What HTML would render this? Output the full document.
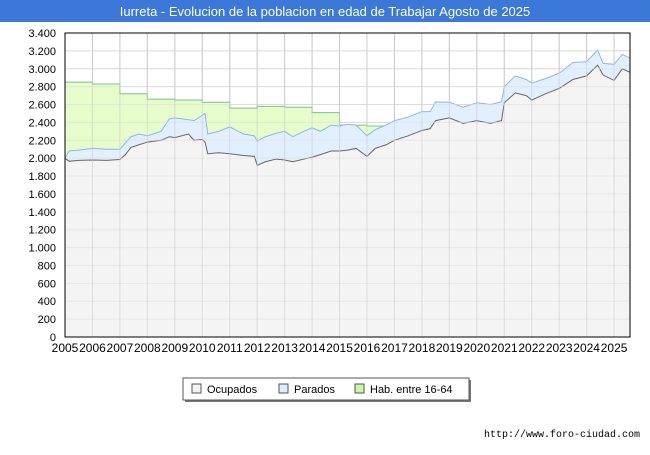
<!DOCTYPE html>
<html><head><meta charset="utf-8"><style>
body{margin:0;width:650px;height:450px;background:#fff;font-family:"Liberation Sans",sans-serif;overflow:hidden}
</style></head><body>
<svg width="650" height="450" font-family="Liberation Sans, sans-serif">
<rect x="0" y="0" width="650" height="22" fill="#3b78d8"/>
<text x="325" y="16" text-anchor="middle" fill="#fff" font-size="13">Iurreta - Evolucion de la poblacion en edad de Trabajar Agosto de 2025</text>
<g id="plot"></g>
<g>
<rect x="185" y="380" width="286" height="22" fill="#777"/>
<rect x="183" y="378" width="286" height="22" fill="#fff" stroke="#555"/>
<rect x="192" y="384" width="9" height="9" fill="#f4f4f4" stroke="#555"/>
<text x="207" y="393" font-size="11">Ocupados</text>
<rect x="279" y="384" width="9" height="9" fill="#dcebff" stroke="#555"/>
<text x="294" y="393" font-size="11">Parados</text>
<rect x="355" y="384" width="9" height="9" fill="#ccf5a8" stroke="#555"/>
<text x="370" y="393" font-size="11">Hab. entre 16-64</text>
</g>
<text x="640" y="437" text-anchor="end" font-size="10" font-family="Liberation Mono, monospace">http://www.foro-ciudad.com</text>
</svg>
<script>
const dates=[2005.0,2005.15,2005.5,2006.0,2006.5,2007.0,2007.2,2007.4,2007.7,2008.0,2008.5,2008.8,2009.0,2009.5,2009.7,2010.0,2010.1,2010.2,2010.6,2011.0,2011.5,2011.9,2012.0,2012.3,2012.7,2013.0,2013.3,2013.7,2014.0,2014.3,2014.7,2015.0,2015.3,2015.6,2016.0,2016.3,2016.7,2017.0,2017.5,2018.0,2018.3,2018.5,2019.0,2019.5,2020.0,2020.5,2020.9,2021.0,2021.4,2021.8,2022.0,2022.5,2023.0,2023.5,2024.0,2024.4,2024.6,2025.0,2025.3,2025.58];
const ocupados=[2000,1965,1975,1980,1975,1985,2040,2120,2150,2180,2200,2240,2230,2270,2200,2210,2180,2050,2060,2050,2030,2020,1920,1960,1990,1980,1960,1990,2010,2040,2080,2080,2090,2110,2020,2110,2150,2200,2250,2310,2330,2420,2450,2390,2420,2390,2420,2620,2730,2700,2650,2720,2780,2880,2920,3040,2930,2870,3000,2960];
const parados=[2000,2080,2090,2110,2100,2100,2170,2240,2270,2250,2300,2440,2450,2430,2420,2480,2500,2270,2300,2350,2270,2250,2190,2240,2280,2300,2240,2300,2340,2300,2370,2360,2380,2370,2250,2320,2370,2420,2460,2520,2520,2630,2625,2570,2620,2600,2630,2800,2920,2880,2840,2890,2950,3070,3080,3210,3060,3050,3160,3120];
const habYears=[2005,2006,2007,2008,2009,2010,2011,2012,2013,2014,2015,2016,2017,2018,2019,2020,2021,2022,2023,2024,2025];
const habValues=[2850,2830,2720,2660,2650,2625,2560,2580,2570,2510,2370,2360,2340,2340,2340,2340,2350,2350,2360,2360,2370];
const yTicks=[0,200,400,600,800,1000,1200,1400,1600,1800,2000,2200,2400,2600,2800,3000,3200,3400];
const xTicks=[2005,2006,2007,2008,2009,2010,2011,2012,2013,2014,2015,2016,2017,2018,2019,2020,2021,2022,2023,2024,2025];
const X0=65,X1=630,Y0=337,Y1=33,endYear=2025.58;
const sx=t=>X0+(t-2005)*(X1-X0)/(endYear-2005);
const sy=v=>Y0-v*(Y0-Y1)/3400;
const NS='http://www.w3.org/2000/svg';
const g=document.getElementById('plot');
function mk(tag,attrs){const e=document.createElementNS(NS,tag);for(const k in attrs)e.setAttribute(k,attrs[k]);g.appendChild(e);return e;}
const bg=mk('rect',{x:X0,y:Y1,width:X1-X0,height:Y0-Y1,fill:'#fff'});


yTicks.forEach(v=>{
 const l=mk('line',{x1:X0,x2:X1,y1:sy(v),y2:sy(v),stroke:'#ddd'});
 
 
 const t=mk('text',{x:X0-9,y:sy(v)+4,'text-anchor':'end','font-size':11});
 t.textContent=v.toLocaleString('de-DE');
 
 
});
xTicks.forEach(yr=>{
 const l=mk('line',{x1:sx(yr),x2:sx(yr),y1:Y1,y2:Y0,stroke:'#ccc'});
 
 
 const t=mk('text',{x:sx(yr),y:Y0+15,'text-anchor':'middle','font-size':12});
 t.textContent=yr;
 
 
});
let hp=[];
habYears.forEach((yr,i)=>{const nx=i+1<habYears.length?habYears[i+1]:endYear;hp.push([sx(yr),sy(habValues[i])],[sx(nx),sy(habValues[i])]);});
const habLine=hp.map(p=>p.join(',')).join(' ');
const ha=mk('polygon',{points:`${X0},${Y0} ${habLine} ${X1},${Y0}`,fill:'#e6fccb'});


const hl=mk('polyline',{points:habLine,fill:'none',stroke:'#7cc08a'});


const pLine=dates.map((d,i)=>sx(d)+','+sy(parados[i])).join(' ');
const pa=mk('polygon',{points:`${X0},${Y0} ${pLine} ${X1},${Y0}`,fill:'#e1efff'});


const pl=mk('polyline',{points:pLine,fill:'none',stroke:'#8fb5e8'});


const oLine=dates.map((d,i)=>sx(d)+','+sy(ocupados[i])).join(' ');
const oa=mk('polygon',{points:`${X0},${Y0} ${oLine} ${X1},${Y0}`,fill:'#f4f4f4'});


const ol=mk('polyline',{points:oLine,fill:'none',stroke:'#666'});


yTicks.forEach(v=>{const l=mk('line',{x1:X0,x2:X1,y1:sy(v),y2:sy(v),stroke:'#ddd','stroke-opacity':0.6});});
xTicks.forEach(yr=>{const l=mk('line',{x1:sx(yr),x2:sx(yr),y1:Y1,y2:Y0,stroke:'#ccc','stroke-opacity':0.6});});
const fr=mk('rect',{x:X0,y:Y1,width:X1-X0,height:Y0-Y1,fill:'none',stroke:'#000'});


</script>
</body></html>
